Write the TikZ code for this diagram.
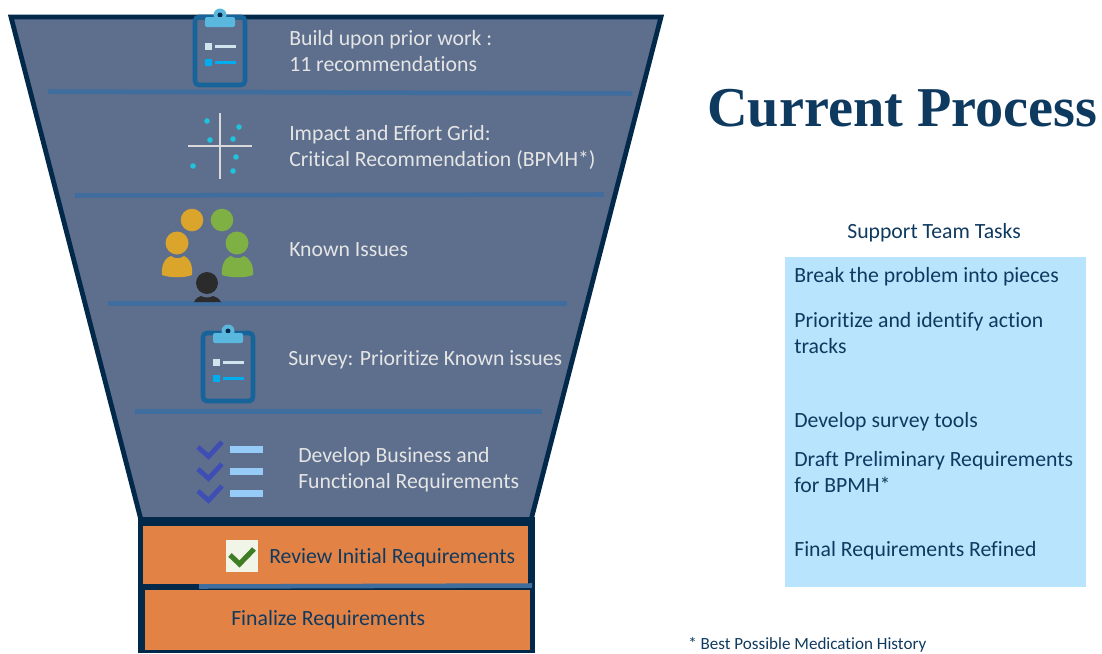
\documentclass[tikz,border=0pt]{standalone}
\usepackage{xcolor}
\usepackage{fontspec}
\setmainfont{Carlito}[Ligatures=NoCommon]
\newfontfamily\titlefont{Liberation Serif}
\definecolor{funnelblue}{HTML}{5D6F8D}
\definecolor{funnelrim}{HTML}{03294A}
\definecolor{ruleblue}{HTML}{3F6D9E}
\definecolor{boxorange}{HTML}{E38245}
\definecolor{taskblue}{HTML}{B8E4FD}
\definecolor{inkblue}{HTML}{0F3A5F}
\definecolor{clipblue}{HTML}{17649A}
\definecolor{clipsky}{HTML}{5AB8DE}
\definecolor{itempale}{HTML}{D0E4EE}
\definecolor{itemcyan}{HTML}{00AEEF}
\definecolor{dotcyan}{HTML}{1FC3DC}
\definecolor{peopleorange}{HTML}{DBA52B}
\definecolor{peoplegreen}{HTML}{7FB044}
\definecolor{peopledark}{HTML}{2B2B2B}
\definecolor{tickblue}{HTML}{3F4EB5}
\definecolor{barblue}{HTML}{96CBF7}
\definecolor{checkpale}{HTML}{F1F5E8}
\definecolor{checkgreen}{HTML}{3F7D25}
\tikzset{
  funnellabel/.style={anchor=west,align=left,text=black!10,font=\fontsize{16.3}{19.5}\selectfont,inner sep=0pt},
  orangelabel/.style={anchor=west,text=inkblue,font=\fontsize{16.3}{19.5}\selectfont,inner sep=0pt},
  tasklabel/.style={anchor=west,align=left,text=inkblue,font=\fontsize{16.3}{19.5}\selectfont,inner sep=0pt},
  rimline/.style={draw=funnelrim,line width=3.6pt},
  funnelrule/.style={draw=ruleblue,line width=3.4pt},
  pics/clipboard/.style={code={
    \draw [draw=clipblue,line width=3.4pt,rounded corners=3pt] (-25,-34) rectangle (25,34);
    \fill [color=clipsky] (0,-36) circle (6.5);
    \fill [color=funnelrim] (0,-36) circle (2.5);
    \fill [color=clipsky,rounded corners=1.5pt] (-15,-34) rectangle (15,-24);
    \fill [color=itempale] (-15,-8) rectangle (-8,-1);
    \draw [draw=itempale,line width=1.9pt] (-5,-4.5) -- (16,-4.5);
    \fill [color=itemcyan] (-15,8) rectangle (-8,15);
    \draw [draw=itemcyan,line width=1.9pt] (-5,11.5) -- (16,11.5);
  }}
}
\begin{document}
\begin{tikzpicture}[x=0.75pt,y=0.75pt,yscale=-1,xscale=1]
\useasboundingbox (0,0) rectangle (1102,653);

% funnel
\draw [rimline,fill=funnelblue,line join=miter] (11,17) -- (661,17) -- (531,520) -- (141,520) -- cycle ;
\draw [funnelrule] (48,91.5) -- (632,93.5) ;
\draw [funnelrule] (75,195.5) -- (604,194.5) ;
\draw [funnelrule] (108,303.5) -- (567,303.5) ;
\draw [funnelrule] (135,411.5) -- (542,411.5) ;

% orange boxes
\fill [color=funnelrim] (138,517) rectangle (535,653) ;
\fill [color=boxorange] (143,526) rectangle (528,584) ;
\fill [color=boxorange] (145,590) rectangle (530,650) ;
\draw [draw=ruleblue,line width=3.4pt] (199,586.5) -- (532,585.5) ;

% icons
\pic [yscale=-1] at (220,51) {clipboard};
\pic [yscale=-1] at (228,367) {clipboard};

\draw [draw=black!15,line width=1.7pt] (188,146) -- (252,146) ;
\draw [draw=black!15,line width=1.7pt] (220,113) -- (220,179) ;
\foreach \dotx/\doty in {207/121,239/127,210/140,233/139,236/157,193/166,233/171}
  \fill [color=dotcyan] (\dotx,\doty) circle (2.8);

\fill [color=peopleorange] (192,220) circle (11.3);
\fill [color=peoplegreen] (222,220) circle (11.3);
\fill [color=peopleorange] (177,243) circle (11.5);
\fill [color=peoplegreen] (237,243) circle (11.5);
\fill [color=peopleorange] (162,275) .. controls (161,262) and (167,257) .. (171,256) .. controls (175,259) and (180,259) .. (184,256) .. controls (189,258) and (193,264) .. (192,275) .. controls (185,278) and (170,278) .. (162,275) -- cycle ;
\fill [color=peoplegreen] (222,275) .. controls (221,262) and (227,257) .. (231,256) .. controls (235,259) and (240,259) .. (244,256) .. controls (249,258) and (254,264) .. (253,275) .. controls (246,278) and (230,278) .. (222,275) -- cycle ;
\fill [color=peopledark] (207,283) circle (11);
\fill [color=peopledark] (194,302) .. controls (196,298) and (198,297) .. (201,296) .. controls (204,298) and (210,298) .. (213,296) .. controls (216,297) and (219,298) .. (221,302) -- cycle ;

\foreach \rowy in {0,22,44}{
  \draw [draw=tickblue,line width=3.6pt] (198,447+\rowy) -- (208.5,456.5+\rowy) -- (222,442+\rowy) ;
  \fill [color=barblue] (230,446+\rowy) rectangle (263,453+\rowy) ;
}

\fill [color=checkpale] (226,540) rectangle (258,572) ;
\draw [draw=checkgreen,line width=3.8pt] (230,555) -- (239.5,564) -- (254,549) ;

% funnel texts
\node [funnellabel] (priorwork) at (289,51) {Build upon prior work :\\11 recommendations};
\node [funnellabel] (grid) at (289,147.5) {Impact and Effort Grid:\\Critical Recommendation (BPMH*)};
\node [funnellabel] (issues) at (289,250) {Known Issues};
\node [funnellabel] (survey) at (288,360) {Survey: Prioritize Known issues};
\node [funnellabel] (business) at (298,470) {Develop Business and\\Functional Requirements};
\node [orangelabel] (review) at (269,558) {Review Initial Requirements};
\node [orangelabel] (finalize) at (231,620) {Finalize Requirements};

% right side
\node [anchor=west,text=inkblue,font=\titlefont\bfseries\fontsize{42.2}{45}\selectfont,inner sep=0pt] (title) at (707,108) {Current Process};
\node [tasklabel] (tasktitle) at (847,233) {Support Team Tasks};
\fill [color=taskblue] (785,257) rectangle (1086,587) ;
\node [tasklabel] (pieces) at (794,277) {Break the problem into pieces};
\node [tasklabel] (tracks) at (794,333) {Prioritize and identify action\\tracks};
\node [tasklabel] (tools) at (794,422) {Develop survey tools};
\node [tasklabel] (draft) at (794,472) {Draft Preliminary Requirements\\for BPMH*};
\node [tasklabel] (refined) at (794,551) {Final Requirements Refined};
\node [anchor=west,text=inkblue,font=\fontsize{12.8}{14}\selectfont,inner sep=0pt] (footnote) at (688,644.5) {* Best Possible Medication History};
\end{tikzpicture}
\end{document}
